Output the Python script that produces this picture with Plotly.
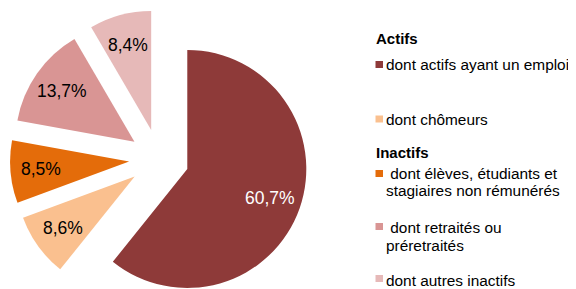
import math
import plotly.graph_objects as go

# ---- data ----
labels = [
    "dont actifs ayant un emploi",
    "dont chômeurs",
    "dont élèves, étudiants et stagiaires non rémunérés",
    "dont retraités ou préretraités",
    "dont autres inactifs",
]
values = [60.7, 8.6, 8.5, 13.7, 8.4]
colors = ["#8E3A39", "#FAC08F", "#E46C0A", "#D99594", "#E6B9B8"]
text_colors = ["white", "black", "black", "black", "black"]
legend_lines = [
    ["dont actifs ayant un emploi"],
    ["dont chômeurs"],
    ["\u00a0dont élèves, étudiants et", "stagiaires non rémunérés"],
    ["\u00a0dont retraités ou", "préretraités"],
    ["dont autres inactifs"],
]
group_titles = ["Actifs", "Inactifs"]

# ---- layout constants ----
OFF = 8                 # page offset of the figure (body margin)
W, H = 576 - OFF, 300
PULL = 0.252
BOX = 298               # pie box size (px)
CX, CY = 151, 151       # pie centre in figure px
FONT = "Liberation Sans, Arial, sans-serif"
R = BOX / (2 + 2 * PULL)
LABEL_K = 0.74


def px(x):  # page x -> paper
    return (x - OFF) / W


def py(y):  # page y -> paper
    return 1 - (y - OFF) / H


fig = go.Figure(
    go.Pie(
        labels=labels,
        values=values,
        sort=False,
        direction="clockwise",
        rotation=0,
        pull=[PULL] * len(values),
        marker=dict(colors=colors, line=dict(width=0)),
        textinfo="none",
        domain=dict(x=[(CX - BOX / 2) / W, (CX + BOX / 2) / W],
                    y=[1 - (CY + BOX / 2) / H, 1 - (CY - BOX / 2) / H]),
        showlegend=False,
        hoverinfo="label+value",
    )
)

annotations = []
shapes = []

# slice labels, placed along each slice's bisector
total = sum(values)
cum = 0
for v, c in zip(values, text_colors):
    mid = 2 * math.pi * (cum + v / 2) / total
    cum += v
    ux, uy = math.sin(mid), -math.cos(mid)
    d = R * (PULL + LABEL_K)
    fx, fy = CX + ux * d, CY + uy * d
    annotations.append(dict(
        x=fx / W, y=1 - fy / H, xref="paper", yref="paper",
        xanchor="center", yanchor="middle", showarrow=False,
        text=("%.1f%%" % v).replace(".", ","),
        font=dict(family=FONT, size=17.5, color=c),
    ))

# group titles
title_y = [39, 152]
for t, yy in zip(group_titles, title_y):
    annotations.append(dict(
        x=px(374), y=py(yy), xref="paper", yref="paper", xanchor="left", yanchor="middle",
        text="<b>%s</b>" % t, showarrow=False, font=dict(family=FONT, size=15, color="black"),
    ))

# legend items
sq_y = [64.5, 119, 173.5, 226.5, 278.5]
line_y = [[65], [119], [173, 190], [228, 245], [280]]
for i, lines in enumerate(legend_lines):
    shapes.append(dict(
        type="rect", xref="paper", yref="paper",
        x0=px(375.5), x1=px(383), y0=py(sq_y[i] + 3.5), y1=py(sq_y[i] - 3.5),
        fillcolor=colors[i], line=dict(width=0),
    ))
    for ln, yy in zip(lines, line_y[i]):
        annotations.append(dict(
            x=px(383.5), y=py(yy), xref="paper", yref="paper", xanchor="left", yanchor="middle",
            text=ln, showarrow=False, font=dict(family=FONT, size=15.4, color="black"),
        ))

fig.update_layout(
    width=W, height=H,
    margin=dict(l=0, r=0, t=0, b=0),
    paper_bgcolor="white", plot_bgcolor="white",
    showlegend=False,
    annotations=annotations,
    shapes=shapes,
)

fig.write_html("out.html")
